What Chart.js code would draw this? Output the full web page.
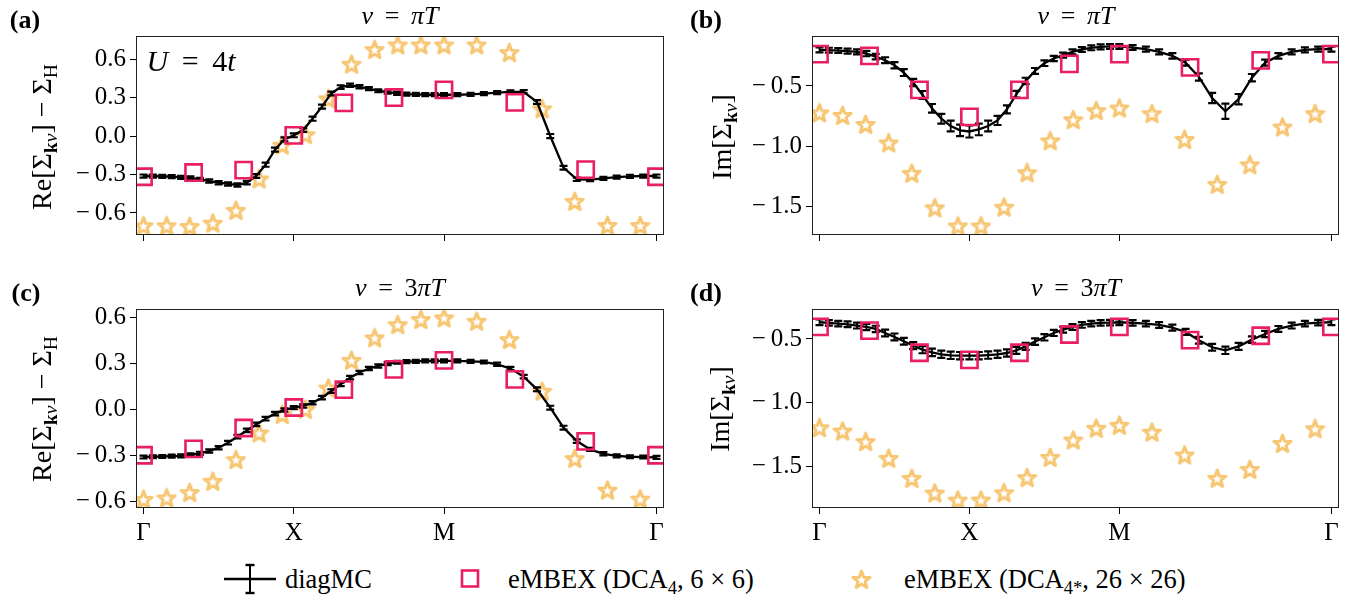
<!DOCTYPE html>
<html>
<head>
<meta charset="utf-8">
<script src="https://cdn.jsdelivr.net/npm/chart.js@4.4.1/dist/chart.umd.min.js"></script>
<style>
  body { margin: 0; width: 1353px; height: 599px; position: relative; overflow: hidden; background: #fff;
         font-family: "Liberation Serif", serif; color: #000; }
  canvas { position: absolute; }
  .lbl { position: absolute; white-space: nowrap; transform: translate(-50%, -50%); font-size: 26px; }
  .ylab { position: absolute; white-space: nowrap; transform: translate(-50%, -50%) rotate(-90deg); font-size: 28px; }
  .panel { position: absolute; font-size: 26px; font-weight: bold; transform: translate(-50%, -50%); }
  sub { font-size: 70%; vertical-align: -0.3em; line-height: 0; }
  .legend { position: absolute; top: 564px; height: 30px; display: flex; align-items: center; font-size: 26.5px; }
</style>
</head>
<body>
<canvas id="chartA" width="680" height="270" style="left:0;top:0"></canvas>
<canvas id="chartB" width="673" height="270" style="left:680px;top:0"></canvas>
<canvas id="chartC" width="680" height="290" style="left:0;top:270px"></canvas>
<canvas id="chartD" width="673" height="290" style="left:680px;top:270px"></canvas>

<div class="panel" style="left:25px;top:20px">(a)</div>
<div class="panel" style="left:706px;top:20px">(b)</div>
<div class="panel" style="left:26px;top:293px">(c)</div>
<div class="panel" style="left:706px;top:293px">(d)</div>

<div class="lbl" style="left:400px;top:16px"><i>ν</i>&thinsp; = &thinsp;<i>πT</i></div>
<div class="lbl" style="left:1076px;top:16px"><i>ν</i>&thinsp; = &thinsp;<i>πT</i></div>
<div class="lbl" style="left:400px;top:288px"><i>ν</i>&thinsp; = &thinsp;3<i>πT</i></div>
<div class="lbl" style="left:1076px;top:288px"><i>ν</i>&thinsp; = &thinsp;3<i>πT</i></div>

<div class="ylab" style="left:42px;top:137px">Re[Σ<sub><b>k</b><i>ν</i></sub>] − Σ<sub>H</sub></div>
<div class="ylab" style="left:722px;top:137px">Im[Σ<sub><b>k</b><i>ν</i></sub>]</div>
<div class="ylab" style="left:42px;top:409px">Re[Σ<sub><b>k</b><i>ν</i></sub>] − Σ<sub>H</sub></div>
<div class="ylab" style="left:720px;top:409px">Im[Σ<sub><b>k</b><i>ν</i></sub>]</div>

<div class="lbl" style="left:191px;top:61px;font-size:30px"><i>U</i>&thinsp; = &thinsp;4<i>t</i></div>

<div class="legend" style="left:224px">
  <svg width="54" height="32"><line x1="0" y1="16" x2="52" y2="16" stroke="#000" stroke-width="2.4"/>
    <line x1="26" y1="2" x2="26" y2="30" stroke="#000" stroke-width="2"/>
    <line x1="21.5" y1="2" x2="30.5" y2="2" stroke="#000" stroke-width="2.4"/>
    <line x1="21.5" y1="30" x2="30.5" y2="30" stroke="#000" stroke-width="2.4"/></svg>
  <span style="margin-left:7px">diagMC</span>
</div>
<div class="legend" style="left:460px">
  <svg width="22" height="30"><rect x="2" y="6.5" width="16" height="16" fill="none" stroke="#e91e63" stroke-width="2.6"/></svg>
  <span style="margin-left:26px">eMBEX (DCA<sub>4</sub>, 6 × 6)</span>
</div>
<div class="legend" style="left:851px">
  <canvas id="legStar" width="21" height="21" style="position:static"></canvas>
  <span style="margin-left:32px">eMBEX (DCA<sub>4*</sub>, 26 × 26)</span>
</div>

<script>
// k-path Γ–X–M–Γ: Γ–X and X–M have length 1, M–Γ has length √2
const GAMMA_END = 2 + Math.SQRT2;
const kTicks = [0, 1, 2, GAMMA_END];
const kLabels = ["Γ", "X", "M", "Γ"];

// k positions of the three data sets (32x32, 6x6 and shifted 26x26 lattices)
const kMC = [];
for (let i = 0; i <= 16; i++) kMC.push(i / 16);
for (let i = 1; i <= 16; i++) kMC.push(1 + i / 16);
for (let i = 1; i <= 16; i++) kMC.push(2 + Math.SQRT2 * i / 16);
const kSq = [0, 1 / 3, 2 / 3, 1, 4 / 3, 5 / 3, 2, 2 + Math.SQRT2 / 3, 2 + 2 * Math.SQRT2 / 3, GAMMA_END];
const kStar = [];
for (let i = 0; i <= 6; i++) kStar.push(2 * i / 13);
for (let j = 0; j <= 6; j++) kStar.push(1 + (2 * j + 1) / 13);
for (let k = 1; k <= 6; k++) kStar.push(2 + Math.SQRT2 * 2 * k / 13);

// (a) Re, nu = pi T
const mcA = [-0.312, -0.312, -0.314, -0.317, -0.322, -0.327, -0.338, -0.351, -0.364, -0.374, -0.382, -0.364, -0.312, -0.224, -0.106, -0.026, 0.005,
  0.047, 0.135, 0.229, 0.332, 0.382, 0.395, 0.384, 0.369, 0.353, 0.343, 0.332, 0.327, 0.325, 0.322, 0.322, 0.322,
  0.322, 0.325, 0.33, 0.338, 0.345, 0.345, 0.265, 0.0, -0.247, -0.338, -0.34, -0.33, -0.32, -0.314, -0.312, -0.312];
const errA = [0.004, 0.004, 0.004, 0.004, 0.004, 0.004, 0.004, 0.005, 0.005, 0.005, 0.005, 0.006, 0.007, 0.008, 0.008, 0.008, 0.007,
  0.007, 0.008, 0.008, 0.007, 0.006, 0.005, 0.005, 0.004, 0.004, 0.004, 0.004, 0.004, 0.004, 0.004, 0.004, 0.004,
  0.004, 0.004, 0.004, 0.004, 0.004, 0.005, 0.007, 0.008, 0.007, 0.005, 0.004, 0.004, 0.004, 0.004, 0.004, 0.004];
const sqA = [-0.318, -0.285, -0.266, 0.005, 0.258, 0.30, 0.36, 0.262, -0.262, -0.318];
const starA = [-0.70, -0.70, -0.706, -0.68, -0.58, -0.335, -0.072, 0.01, 0.29, 0.56, 0.674, 0.71, 0.71, 0.71, 0.71, 0.65, 0.212, -0.51, -0.698, -0.698];

// (b) Im, nu = pi T
const mcB = [-0.2, -0.203, -0.206, -0.211, -0.217, -0.231, -0.256, -0.286, -0.328, -0.389, -0.472, -0.575, -0.686, -0.772, -0.833, -0.869, -0.878,
  -0.861, -0.833, -0.786, -0.694, -0.569, -0.458, -0.375, -0.311, -0.272, -0.244, -0.217, -0.197, -0.183, -0.175, -0.172, -0.172,
  -0.181, -0.194, -0.217, -0.25, -0.306, -0.425, -0.6, -0.71, -0.61, -0.431, -0.306, -0.25, -0.217, -0.2, -0.194, -0.194];
const errB = [0.012, 0.012, 0.012, 0.012, 0.013, 0.014, 0.015, 0.016, 0.018, 0.02, 0.022, 0.025, 0.028, 0.032, 0.036, 0.04, 0.042,
  0.04, 0.036, 0.03, 0.025, 0.02, 0.018, 0.016, 0.015, 0.014, 0.013, 0.012, 0.012, 0.012, 0.012, 0.012, 0.012,
  0.012, 0.012, 0.013, 0.014, 0.016, 0.022, 0.035, 0.055, 0.035, 0.022, 0.016, 0.014, 0.013, 0.012, 0.012, 0.012];
const sqB = [-0.236, -0.25, -0.533, -0.757, -0.533, -0.316, -0.236, -0.346, -0.288, -0.236];
const starB = [-0.724, -0.745, -0.82, -0.973, -1.226, -1.513, -1.663, -1.663, -1.507, -1.221, -0.956, -0.781, -0.705, -0.684, -0.73, -0.945, -1.318, -1.155, -0.841, -0.73];

// (c) Re, nu = 3 pi T
const mcC = [-0.31, -0.308, -0.306, -0.304, -0.302, -0.295, -0.286, -0.271, -0.249, -0.217, -0.178, -0.137, -0.098, -0.061, -0.028, -0.004, 0.011,
  0.022, 0.043, 0.076, 0.119, 0.163, 0.206, 0.239, 0.265, 0.282, 0.297, 0.306, 0.31, 0.312, 0.315, 0.315, 0.315,
  0.315, 0.312, 0.308, 0.293, 0.265, 0.213, 0.13, 0.011, -0.119, -0.206, -0.26, -0.289, -0.302, -0.308, -0.31, -0.312];
const errC = [0.003, 0.003, 0.003, 0.003, 0.003, 0.003, 0.004, 0.004, 0.004, 0.005, 0.005, 0.005, 0.005, 0.005, 0.005, 0.004, 0.004,
  0.004, 0.004, 0.005, 0.005, 0.005, 0.005, 0.004, 0.004, 0.004, 0.003, 0.003, 0.003, 0.003, 0.003, 0.003, 0.003,
  0.003, 0.003, 0.003, 0.004, 0.004, 0.005, 0.006, 0.006, 0.006, 0.005, 0.004, 0.004, 0.003, 0.003, 0.003, 0.003];
const sqC = [-0.298, -0.257, -0.121, 0.012, 0.128, 0.26, 0.318, 0.195, -0.208, -0.298];
const starC = [-0.585, -0.576, -0.541, -0.468, -0.327, -0.154, -0.034, 0.0, 0.138, 0.318, 0.464, 0.55, 0.583, 0.594, 0.572, 0.453, 0.117, -0.32, -0.525, -0.583];

// (d) Im, nu = 3 pi T
const mcD = [-0.369, -0.374, -0.38, -0.385, -0.395, -0.406, -0.421, -0.453, -0.484, -0.518, -0.552, -0.584, -0.605, -0.62, -0.628, -0.631, -0.631,
  -0.631, -0.626, -0.62, -0.61, -0.589, -0.558, -0.521, -0.487, -0.453, -0.427, -0.406, -0.39, -0.38, -0.374, -0.372, -0.369,
  -0.374, -0.38, -0.39, -0.411, -0.445, -0.51, -0.565, -0.589, -0.558, -0.505, -0.461, -0.421, -0.395, -0.38, -0.372, -0.369];
const errD = [0.014, 0.014, 0.014, 0.015, 0.015, 0.016, 0.017, 0.018, 0.019, 0.019, 0.02, 0.02, 0.021, 0.021, 0.021, 0.021, 0.021,
  0.021, 0.021, 0.021, 0.02, 0.02, 0.019, 0.018, 0.017, 0.016, 0.015, 0.015, 0.014, 0.014, 0.014, 0.014, 0.014,
  0.014, 0.014, 0.015, 0.015, 0.016, 0.018, 0.019, 0.021, 0.019, 0.018, 0.016, 0.015, 0.015, 0.014, 0.014, 0.014];
const sqD = [-0.405, -0.435, -0.608, -0.664, -0.608, -0.465, -0.405, -0.509, -0.475, -0.405];
const starD = [-1.196, -1.222, -1.305, -1.436, -1.593, -1.708, -1.763, -1.763, -1.706, -1.587, -1.429, -1.292, -1.2, -1.177, -1.231, -1.41, -1.593, -1.523, -1.319, -1.204];

const ticksRe = [-0.6, -0.3, 0.0, 0.3, 0.6];
const ticksIm = [-1.5, -1.0, -0.5];

const FONT = { family: "Liberation Serif", size: 25 };
const PINK = "#e91e63";
const STAR_COLOR = "rgba(246, 192, 100, 0.9)";

function starImage(size) {
  const cv = document.createElement("canvas");
  cv.width = cv.height = size;
  const c = cv.getContext("2d");
  const R = size * 0.43, r = R * 0.42;
  c.beginPath();
  for (let k = 0; k < 10; k++) {
    const a = -Math.PI / 2 + k * Math.PI / 5;
    const rad = k % 2 ? r : R;
    c.lineTo(size / 2 + rad * Math.cos(a), size / 2 + 0.7 + rad * Math.sin(a));
  }
  c.closePath();
  c.lineJoin = "round";
  c.lineWidth = 3;
  c.strokeStyle = STAR_COLOR;
  c.stroke();
  return cv;
}
const STAR = starImage(21);

const framePlugin = {
  id: "frame",
  afterDraw(chart) {
    const a = chart.chartArea, c = chart.ctx;
    c.save();
    c.strokeStyle = "#222";
    c.lineWidth = 1;
    c.strokeRect(Math.round(a.left) + 0.5, Math.round(a.top) + 0.5, Math.round(a.right - a.left) - 1, Math.round(a.bottom - a.top) - 1);
    c.restore();
  }
};

const errorBarPlugin = {
  id: "errorBars",
  afterDatasetDraw(chart, args) {
    const ds = chart.data.datasets[args.index];
    if (!ds.yErr) return;
    const ys = chart.scales.y, c = chart.ctx;
    c.save();
    c.strokeStyle = "#000";
    args.meta.data.forEach((p, i) => {
      const v = ds.data[i].y, e = ds.yErr[i];
      const top = ys.getPixelForValue(v + e) - 1, bot = ys.getPixelForValue(v - e) + 1;
      c.lineWidth = 1.8;
      c.beginPath();
      c.moveTo(p.x, top); c.lineTo(p.x, bot);
      c.stroke();
      c.lineWidth = 2.2;
      c.beginPath();
      c.moveTo(p.x - 4, top); c.lineTo(p.x + 4, top);
      c.moveTo(p.x - 4, bot); c.lineTo(p.x + 4, bot);
      c.stroke();
    });
    c.restore();
  }
};

function pts(xs, ys) {
  return ys.map((y, i) => ({ x: xs[i], y: y }));
}

function fmt(v) {
  const s = Math.abs(v).toFixed(1);
  return v < -1e-9 ? "−\u2009" + s : s;
}

function makePanel(id, opt) {
  new Chart(document.getElementById(id), {
    type: "scatter",
    data: {
      datasets: [
        { label: "diagMC", data: pts(kMC, opt.mc), yErr: opt.err, showLine: true, borderColor: "#000",
          borderWidth: 2.3, pointRadius: 0, order: 1 },
        { label: "eMBEX (DCA4, 6x6)", data: pts(kSq, opt.sq), pointStyle: "rect", pointRadius: 11.5,
          borderColor: PINK, borderWidth: 2.6, backgroundColor: "rgba(0,0,0,0)", order: 0 },
        { label: "eMBEX (DCA4*, 26x26)", data: pts(kStar, opt.star), pointStyle: STAR, pointRadius: 10, order: 2 }
      ]
    },
    options: {
      responsive: false,
      animation: false,
      devicePixelRatio: 1,
      layout: { padding: { top: opt.padTop, right: opt.padRight, left: 0, bottom: 0 } },
      plugins: { legend: { display: false }, tooltip: { enabled: false }, title: { display: false } },
      scales: {
        x: {
          type: "linear", min: -0.05, max: GAMMA_END + 0.05,
          afterBuildTicks: s => { s.ticks = kTicks.map(v => ({ value: v })); },
          afterFit: s => { s.height = opt.xH; },
          ticks: { font: FONT, color: "#000", padding: 4, maxRotation: 0,
                   callback: (v, i) => opt.xLabels ? kLabels[i] : "" },
          grid: { drawOnChartArea: false, drawTicks: true, tickLength: 6, color: "#000", lineWidth: 1 },
          border: { display: false }
        },
        y: {
          min: opt.yMin, max: opt.yMax,
          afterBuildTicks: s => { s.ticks = opt.yTicks.map(v => ({ value: v })); },
          afterFit: s => { s.width = opt.yW; },
          ticks: { font: FONT, color: "#000", padding: 4, callback: v => fmt(v) },
          grid: { drawOnChartArea: false, drawTicks: true, tickLength: 6, color: "#000", lineWidth: 1 },
          border: { display: false }
        }
      }
    },
    plugins: [framePlugin, errorBarPlugin]
  });
}

makePanel("chartA", { mc: mcA, err: errA, sq: sqA, star: starA, yMin: -0.772, yMax: 0.78, yTicks: ticksRe,
  padTop: 36, padRight: 16, yW: 136, xH: 35, xLabels: false });
makePanel("chartB", { mc: mcB, err: errB, sq: sqB, star: starB, yMin: -1.738, yMax: -0.085, yTicks: ticksIm,
  padTop: 36, padRight: 13, yW: 132, xH: 35, xLabels: false });
makePanel("chartC", { mc: mcC, err: errC, sq: sqC, star: starC, yMin: -0.641, yMax: 0.652, yTicks: ticksRe,
  padTop: 39, padRight: 16, yW: 136, xH: 52, xLabels: true });
makePanel("chartD", { mc: mcD, err: errD, sq: sqD, star: starD, yMin: -1.825, yMax: -0.265, yTicks: ticksIm,
  padTop: 39, padRight: 13, yW: 132, xH: 52, xLabels: true });

// legend star symbol
document.getElementById("legStar").getContext("2d").drawImage(STAR, 0, 0);
</script>
</body>
</html>
